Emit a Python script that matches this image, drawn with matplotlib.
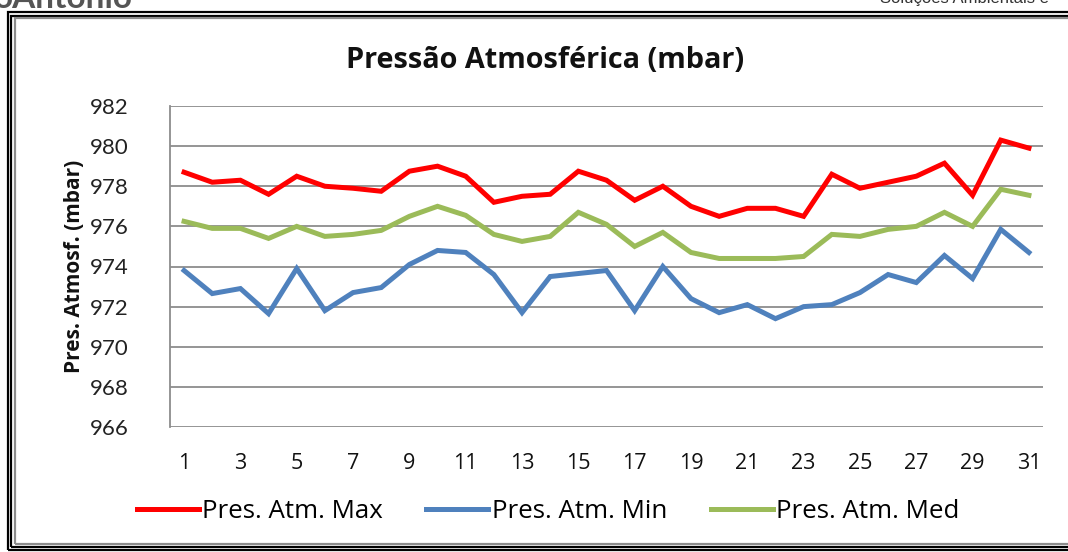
import matplotlib
matplotlib.use("Agg")
import matplotlib.pyplot as plt
from matplotlib.patches import Rectangle

plt.rcParams.update({
    "font.family": ["Open Sans", "DejaVu Sans"],
})

W, H = 1068, 552

# daily values
days = list(range(1, 32))
pres_max = [978.7, 978.2, 978.3, 977.6, 978.5, 978.0, 977.9, 977.75, 978.75, 979.0,
            978.5, 977.2, 977.5, 977.6, 978.75, 978.3, 977.3, 978.0, 977.0, 976.5,
            976.9, 976.9, 976.5, 978.6, 977.9, 978.2, 978.5, 979.15, 977.55, 980.3,
            979.9]
pres_min = [973.8, 972.65, 972.9, 971.65, 973.9, 971.8, 972.7, 972.95, 974.1, 974.8,
            974.7, 973.6, 971.7, 973.5, 973.65, 973.8, 971.8, 974.0, 972.4, 971.7,
            972.1, 971.4, 972.0, 972.1, 972.7, 973.6, 973.2, 974.55, 973.4, 975.85,
            974.7]
pres_med = [976.25, 975.9, 975.9, 975.4, 976.0, 975.5, 975.6, 975.8, 976.5, 977.0,
            976.55, 975.6, 975.25, 975.5, 976.7, 976.1, 975.0, 975.7, 974.7, 974.4,
            974.4, 974.4, 974.5, 975.6, 975.5, 975.85, 976.0, 976.7, 976.0, 977.85,
            977.55]
xtick_days = list(range(1, 32, 2))
yticks = list(range(966, 983, 2))


def fx(px):
    return px / W


def fy(py):
    return 1 - py / H


fig = plt.figure(figsize=(W / 100, H / 100), dpi=100)
fig.patch.set_facecolor("white")

# page frame (double border) and cut-off header text
for x0, y0, col in [(7.5, 12, "black"), (11, 15.5, "black"), (14.5, 18, "#8c8c8c")]:
    y1 = H - (y0 - 12) - 2
    fig.add_artist(Rectangle((fx(x0), fy(y1)), fx(W + 20 - x0), fy(y0) - fy(y1),
                             transform=fig.transFigure, fill=False,
                             edgecolor=col, linewidth=1.6))
fig.text(fx(-6), fy(8), "oAntonio", fontsize=24, fontweight="bold",
         color="#555555", ha="left", va="baseline", family="Lato")
fig.text(fx(880), fy(3), "Soluções Ambientais e", fontsize=12,
         color="#333333", ha="left", va="baseline", family="Liberation Sans")

ax = fig.add_axes([fx(170), fy(427), fx(1043) - fx(170), fy(106) - fy(427)])

ax.plot(days, pres_max, color="#FF0000", lw=3.6, label="Pres. Atm. Max",
        solid_joinstyle="miter", zorder=3)
ax.plot(days, pres_min, color="#4F81BD", lw=3.6, label="Pres. Atm. Min",
        solid_joinstyle="miter", zorder=3)
ax.plot(days, pres_med, color="#9BBB59", lw=3.6, label="Pres. Atm. Med",
        solid_joinstyle="miter", zorder=3)

ax.set_xlim(0.5, 31.5)
ax.set_ylim(966, 982)
ax.set_yticks(yticks)
ax.set_xticks(xtick_days)
ax.set_xticklabels([str(d) for d in xtick_days])
ax.grid(axis="y", color="#8c8c8c", lw=1.3)
ax.set_axisbelow(True)
for s in ["top", "right", "bottom"]:
    ax.spines[s].set_visible(False)
ax.spines["left"].set_color("#8c8c8c")
ax.spines["left"].set_linewidth(1.3)
ax.tick_params(axis="both", length=0)
ax.tick_params(axis="y", labelsize=16, pad=30, colors="#222222")
ax.tick_params(axis="x", labelsize=15.5, pad=19, colors="#111111")
for lbl in ax.get_yticklabels():
    lbl.set_family("Lato")

fig.text(fx(75), fy(266), "Pres. Atmosf. (mbar)", fontsize=15, fontweight="bold",
         rotation=90, ha="center", va="center", color="#111111")

fig.text(fx(545), fy(60), "Pressão Atmosférica (mbar)", fontsize=20.8,
         fontweight="bold", ha="center", va="center", color="#111111")

fig.legend(loc="center", bbox_to_anchor=(fx(548), fy(512)), ncol=3, frameon=False,
           fontsize=18.6, handlelength=2.4, handletextpad=0.12, columnspacing=1.7)

fig.savefig("out.png", dpi=100)
